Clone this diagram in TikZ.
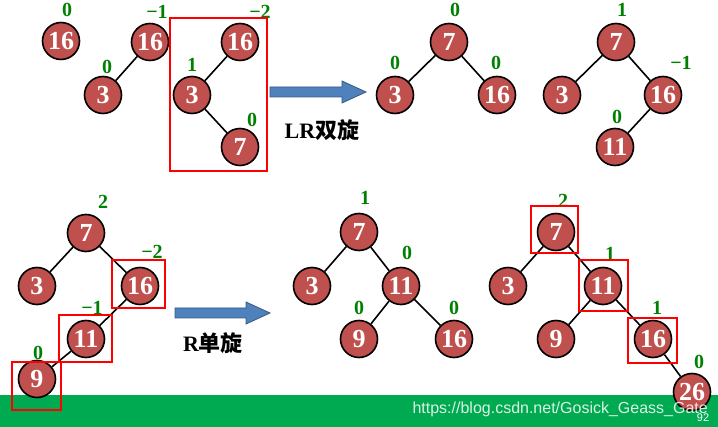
\documentclass[tikz,border=0pt]{standalone}
\usepackage{fontspec}
\setmainfont{Liberation Serif}
\newfontfamily\cjk{Noto Sans CJK SC}
\newfontfamily\urlfont{Liberation Sans}
\definecolor{nodered}{RGB}{192,80,77}
\definecolor{bfgreen}{RGB}{0,128,0}
\definecolor{arrowblue}{RGB}{79,129,189}
\definecolor{bargreen}{RGB}{0,170,80}
\begin{document}
\begin{tikzpicture}[x=1pt,y=-1pt,
	main node/.style = {circle,draw,line width=1.6pt,fill=nodered,text=white,inner sep=0pt,minimum size=37pt,font=\bfseries\fontsize{26}{26}\selectfont},
	bf node/.style = {text=bfgreen,inner sep=0pt,font=\bfseries\fontsize{20}{20}\selectfont},
	link/.style = {line width=1.6pt},
	red box/.style = {draw=red,line width=1.6pt},
	turn/.style = {fill=arrowblue,draw=arrowblue!70!black,line width=0.8pt},
	op node/.style = {inner sep=0pt,font=\bfseries\fontsize{22}{22}\selectfont}]
	\useasboundingbox (0,0) rectangle (718,427);
	\fill[bargreen] (0,395) rectangle (718,427);
	
	% first row: before LR
	\node[main node] (a1) at (61,41) {16};
	\node[main node] (b1) at (150,42) {16};
	\node[main node] (b2) at (103,95) {3};
	\node[main node] (c1) at (240,42) {16};
	\node[main node] (c2) at (192,95) {3};
	\node[main node] (c3) at (240,147) {7};
	\node[bf node] at (67,10) {0};
	\node[bf node] at (157,12) {−1};
	\node[bf node] at (107,67) {0};
	\node[bf node] at (260,12) {−2};
	\node[bf node] at (192,65) {1};
	\node[bf node] at (252,120) {0};
	\draw[link] (b1) -- (b2);
	\draw[link] (c1) -- (c2) (c2) -- (c3);
	\draw[red box] (170,18) rectangle (267,171);
	
	\filldraw[turn] (270,87) -- (342,87) -- (342,81) -- (366,92) -- (342,103) -- (342,97) -- (270,97) -- cycle;
	\node[op node] (lr) at (322,130) {LR{\cjk 双旋}};
	
	% first row: after LR
	\node[main node] (d1) at (449,42) {7};
	\node[main node] (d2) at (395,95) {3};
	\node[main node] (d3) at (497,95) {16};
	\node[main node] (e1) at (616,42) {7};
	\node[main node] (e2) at (562,95) {3};
	\node[main node] (e3) at (663,95) {16};
	\node[main node] (e4) at (615,147) {11};
	\node[bf node] at (455,10) {0};
	\node[bf node] at (395,63) {0};
	\node[bf node] at (496,63) {0};
	\node[bf node] at (622,10) {1};
	\node[bf node] at (681,63) {−1};
	\node[bf node] at (617,117) {0};
	\draw[link] (d1) -- (d2) (d1) -- (d3);
	\draw[link] (e1) -- (e2) (e1) -- (e3) (e3) -- (e4);
	
	% second row: before R
	\node[main node] (f1) at (86,233) {7};
	\node[main node] (f2) at (37,286) {3};
	\node[main node] (f3) at (140,286) {16};
	\node[main node] (f4) at (86,339) {11};
	\node[main node] (f5) at (37,379) {9};
	\node[bf node] at (103,202) {2};
	\node[bf node] at (152,252) {−2};
	\node[bf node] at (92,308) {−1};
	\node[bf node] at (38,353) {0};
	\draw[link] (f1) -- (f2) (f1) -- (f3) (f3) -- (f4) (f4) -- (f5);
	\draw[red box] (112,260) rectangle (165,308);
	\draw[red box] (59,315) rectangle (112,362);
	\draw[red box] (12,362) rectangle (61,410);
	
	\filldraw[turn] (175,308) -- (246,308) -- (246,302) -- (270,313) -- (246,324) -- (246,318) -- (175,318) -- cycle;
	\node[op node] (r) at (213,343) {R{\cjk 单旋}};
	
	% second row: after R
	\node[main node] (g1) at (359,232) {7};
	\node[main node] (g2) at (312,286) {3};
	\node[main node] (g3) at (401,286) {11};
	\node[main node] (g4) at (359,339) {9};
	\node[main node] (g5) at (454,339) {16};
	\node[bf node] at (365,198) {1};
	\node[bf node] at (407,253) {0};
	\node[bf node] at (359,308) {0};
	\node[bf node] at (454,308) {0};
	\draw[link] (g1) -- (g2) (g1) -- (g3) (g3) -- (g4) (g3) -- (g5);
	
	\node[main node] (h1) at (556,232) {7};
	\node[main node] (h2) at (508,286) {3};
	\node[main node] (h3) at (603,286) {11};
	\node[main node] (h4) at (556,339) {9};
	\node[main node] (h5) at (653,339) {16};
	\node[main node] (h6) at (692,392) {26};
	\node[bf node] at (563,201) {2};
	\node[bf node] at (610,254) {1};
	\node[bf node] at (657,308) {1};
	\node[bf node] at (699,362) {0};
	\draw[link] (h1) -- (h2) (h1) -- (h3) (h3) -- (h4) (h3) -- (h5) (h5) -- (h6);
	\draw[red box] (531,206) rectangle (578,253);
	\draw[red box] (579,260) rectangle (628,311);
	\draw[red box] (628,318) rectangle (677,363);
	
	\node[anchor=east,text=white,opacity=0.85,inner sep=0pt,font=\urlfont\fontsize{16}{16}\selectfont] (url) at (708,409) {https://blog.csdn.net/Gosick\_Geass\_Gate};
	\node[text=white,inner sep=0pt,font=\urlfont\fontsize{11}{11}\selectfont] (pg) at (703,418) {92};
\end{tikzpicture}
\end{document}
